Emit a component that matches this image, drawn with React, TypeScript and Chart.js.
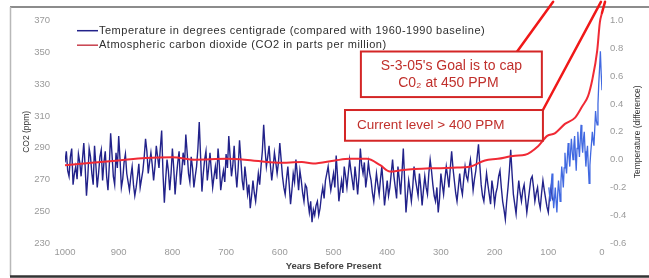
import React, { useEffect, useRef } from "react";
import { Chart, registerables } from "chart.js";

Chart.register(...registerables);

// ---------- DATA ----------
const legendLabels = [
  "Temperature in degrees centigrade (compared with 1960-1990 baseline)",
  "Atmospheric carbon dioxide (CO2 in parts per million)",
];
const xAxisTitle = "Years Before Present";
const leftAxisTitle = "CO2 (ppm)";
const rightAxisTitle = "Temperature (difference)";

const yearMin = 0;
const yearMax = 1000;
const yearStep = 100;
const co2Min = 230;
const co2Max = 370;
const co2Step = 20;
const tempMin = -0.6;
const tempMax = 1.0;
const tempStep = 0.2;

// proxy temperature reconstruction, every 2.5 years from 1000 BP
const proxyStartYear = 1000;
const proxyStep = 2.5;
const proxyTemps = [
  -0.02, 0.06, -0.08, -0.12, 0.02, 0.08, -0.18, -0.1, -0.05, -0.14, 0.04, -0.02, -0.12, 0.0, 0.12, -0.05, -0.26, -0.12, 0.08, 0.02,
  -0.1, -0.18, 0.1, -0.04, -0.2, -0.1, 0.02, 0.07, -0.15, -0.02, 0.06, -0.12, -0.22, -0.04, 0.19, 0.04, -0.12, -0.18, 0.05, -0.06,
  0.17, 0.0, -0.2, -0.14, -0.02, 0.04, -0.1, -0.16, -0.22, -0.12, -0.05, -0.18, -0.26, -0.2, -0.12, -0.03, -0.2, -0.14, -0.08, 0.02,
  0.15, 0.06, -0.1, -0.02, 0.05, -0.04, -0.15, -0.05, 0.1, 0.02, -0.06, 0.08, 0.21, -0.1, -0.31, -0.14, 0.0, -0.08, -0.22, -0.1,
  0.08, -0.06, -0.25, -0.12, -0.02, 0.06, -0.18, -0.08, 0.05, -0.04, 0.18, 0.05, -0.1, -0.16, 0.02, -0.06, -0.2, -0.12, -0.05, 0.08,
  0.27, 0.02, -0.23, -0.1, 0.0, 0.06, -0.15, -0.06, 0.05, -0.08, -0.2, -0.12, -0.05, -0.14, 0.08, -0.04, -0.22, -0.14, -0.08, -0.16,
  0.04, -0.06, 0.17, 0.02, -0.12, -0.04, 0.1, -0.08, -0.2, -0.06, 0.14, 0.0, -0.15, -0.22, -0.05, -0.14, -0.25, -0.18, -0.35, -0.26,
  -0.15, -0.24, -0.3, -0.2, -0.1, -0.18, -0.05, 0.06, 0.25, 0.08, -0.05, 0.02, 0.1, -0.04, -0.15, -0.06, 0.05, -0.02, -0.1, -0.02,
  0.12, 0.0, -0.12, -0.2, -0.25, -0.14, -0.05, -0.18, -0.32, -0.22, -0.1, -0.16, 0.0, -0.1, -0.22, -0.08, -0.15, -0.24, -0.3, -0.18,
  -0.2, -0.3, -0.38, -0.3, -0.45, -0.36, -0.4, -0.33, -0.3, -0.4, -0.35, -0.26, -0.2, -0.28, -0.15, -0.1, -0.05, -0.14, -0.22, -0.16,
  -0.1, -0.2, 0.03, -0.12, -0.3, -0.22, -0.15, -0.24, -0.05, -0.12, -0.2, -0.1, 0.0, -0.08, -0.15, -0.22, -0.05, -0.14, -0.25, -0.12,
  0.08, -0.04, -0.1, -0.02, -0.2, -0.12, -0.02, -0.1, -0.15, -0.24, -0.3, -0.2, -0.1, -0.18, -0.25, -0.14, -0.05, -0.18, -0.33, -0.24,
  -0.15, -0.26, -0.2, -0.1, 0.0, -0.12, -0.2, -0.28, -0.05, -0.14, -0.25, -0.1, 0.08, -0.15, -0.38, -0.26, -0.15, -0.22, -0.3, -0.2,
  -0.05, -0.14, -0.2, -0.26, -0.1, -0.2, -0.33, -0.22, -0.12, -0.2, -0.25, -0.1, 0.0, -0.08, -0.18, -0.26, -0.3, -0.2, -0.38, -0.28,
  -0.1, -0.18, -0.25, -0.14, -0.05, -0.12, -0.2, -0.06, 0.06, -0.06, -0.15, -0.24, -0.3, -0.2, -0.1, -0.2, -0.25, -0.14, -0.05, -0.12,
  -0.15, -0.06, 0.0, -0.1, -0.22, -0.14, -0.08, 0.02, 0.11, -0.04, -0.18, -0.26, -0.3, -0.2, -0.1, -0.18, -0.25, -0.32, -0.15, -0.22,
  -0.32, -0.24, -0.2, -0.12, -0.08, -0.2, -0.3, -0.36, -0.43, -0.3, -0.2, -0.08, 0.07, -0.1, -0.25, -0.32, -0.39, -0.26, -0.15, -0.24,
  -0.3, -0.22, -0.18, -0.28, -0.38, -0.3, -0.22, -0.14, -0.12, -0.2, -0.3, -0.24, -0.2, -0.3, -0.35, -0.24, -0.15, -0.22, -0.28, -0.34,
  -0.38, -0.26, -0.2, -0.28, -0.3,
];

// instrumental record, every 1.5 years from 99 BP
const instrStartYear = 99;
const instrStep = 1.5;
const instrTemps = [
  -0.2, -0.26, -0.3, -0.18, -0.1, -0.24, -0.35, -0.28, -0.2, -0.3,
  -0.38, -0.25, -0.15, -0.22, -0.3, -0.16, -0.05, -0.12, -0.2, -0.06,
  0.05, -0.04, -0.1, 0.02, 0.12, 0.02, -0.05, 0.06, 0.15, 0.06,
  0.0, 0.1, 0.17, 0.04, -0.08, 0.08, 0.2, 0.1, 0.02, 0.14,
  0.25, 0.12, 0.05, 0.15, 0.2, 0.06, -0.05, 0.04, 0.1, -0.05,
  -0.17, -0.04, 0.05, 0.12, 0.2, 0.14, 0.1, 0.22, 0.35, 0.28,
  0.25, 0.4, 0.55, 0.66, 0.78, 0.62, 0.5,
];

const co2Years = [
  1000, 950, 900, 850, 800, 758, 700, 665, 603, 559, 538, 497, 470, 438,
  413, 395, 370, 320, 270, 246, 218, 194, 162, 143, 119, 102, 88, 69, 50,
  37, 26, 18, 9, 4, 0,
];
const co2Values = [
  279, 280.5, 282, 283.5, 284, 282.5, 283, 282.5, 280.5, 281, 280, 282, 283,
  283, 279, 275, 276, 277, 277.5, 278, 282, 283, 285, 285.6, 291, 297.5, 299,
  305, 309, 316, 322.5, 333, 351, 369, 375,
];

const goalText = ["S-3-05's Goal is to cap", "C0\u2082 at 450 PPM"];
const currentText = "Current level > 400 PPM";

// ---------- ANNOTATION GEOMETRY (data units: year, ppm) ----------
const goalBox = { y0: 449, y1: 112, c0: 350.6, c1: 321.9 };
const currentBox = { y0: 478.6, y1: 110, c0: 313.75, c1: 294.4 };
const pointerLines = [
  { a: [158, 350.6], b: [91, 381.9] },
  { a: [110, 313.75], b: [2, 381.9] },
  { a: [0, 375], b: [-5.6, 381.9] },
];

const FONT = "'Liberation Sans', Arial, sans-serif";
const NAVY = "#22228a";
const LIGHTBLUE = "#4169e1";
const RED = "#f02a35";

const framePlugin = {
  id: "frame",
  beforeDraw(chart: any) {
    const { ctx, width, height } = chart;
    ctx.save();
    ctx.fillStyle = "#ffffff";
    ctx.fillRect(0, 0, width, height);
    ctx.strokeStyle = "#8c8c8c";
    ctx.lineWidth = 2;
    ctx.beginPath();
    ctx.moveTo(10, 7);
    ctx.lineTo(width, 7);
    ctx.stroke();
    ctx.strokeStyle = "#b8b8b8";
    ctx.lineWidth = 1.5;
    ctx.beginPath();
    ctx.moveTo(10.5, 7);
    ctx.lineTo(10.5, height - 2);
    ctx.stroke();
    ctx.strokeStyle = "#333333";
    ctx.lineWidth = 2.5;
    ctx.beginPath();
    ctx.moveTo(10, height - 1.5);
    ctx.lineTo(width, height - 1.5);
    ctx.stroke();
    ctx.restore();
  },
};

const overlayPlugin = {
  id: "overlay",
  afterDraw(chart: any) {
    const { ctx, scales } = chart;
    const xs = scales.x;
    const ys = scales.yC;
    const px = (yr: number) => xs.getPixelForValue(yr);
    const py = (c: number) => ys.getPixelForValue(c);
    const area = chart.chartArea;
    ctx.save();

    // legend
    const legendColors = [NAVY, "#c8404c"];
    ctx.font = `11px ${FONT}`;
    (ctx as any).letterSpacing = "0.5px";
    ctx.textBaseline = "middle";
    ctx.textAlign = "left";
    legendLabels.forEach((lbl, i) => {
      const y = area.top + 10 + i * 14.5;
      ctx.strokeStyle = legendColors[i];
      ctx.lineWidth = 1.5;
      ctx.beginPath();
      ctx.moveTo(area.left + 12, y);
      ctx.lineTo(area.left + 33, y);
      ctx.stroke();
      ctx.fillStyle = "#2e2e2e";
      ctx.fillText(lbl, area.left + 34, y);
    });
    (ctx as any).letterSpacing = "0px";

    // right axis title (reads bottom to top)
    ctx.save();
    ctx.translate(area.right + 36, (area.top + area.bottom) / 2);
    ctx.rotate(-Math.PI / 2);
    ctx.font = `8.5px ${FONT}`;
    ctx.fillStyle = "#333";
    ctx.textAlign = "center";
    ctx.textBaseline = "middle";
    ctx.fillText(rightAxisTitle, 0, 0);
    ctx.restore();

    // pointer lines
    ctx.strokeStyle = "#f01818";
    ctx.lineWidth = 2.5;
    ctx.lineCap = "round";
    pointerLines.forEach((l) => {
      ctx.beginPath();
      ctx.moveTo(px(l.a[0]), py(l.a[1]));
      ctx.lineTo(px(l.b[0]), py(l.b[1]));
      ctx.stroke();
    });

    // boxes
    const drawBox = (b: any) => {
      const x0 = px(b.y0), x1 = px(b.y1), y0 = py(b.c0), y1 = py(b.c1);
      ctx.fillStyle = "#ffffff";
      ctx.fillRect(x0, y0, x1 - x0, y1 - y0);
      ctx.strokeStyle = "#d42626";
      ctx.lineWidth = 2;
      ctx.strokeRect(x0, y0, x1 - x0, y1 - y0);
      return { x0, x1, y0, y1 };
    };
    const g = drawBox(goalBox);
    ctx.fillStyle = "#c0302c";
    ctx.font = `14px ${FONT}`;
    ctx.textAlign = "center";
    ctx.textBaseline = "middle";
    const gcx = (g.x0 + g.x1) / 2;
    const gcy = (g.y0 + g.y1) / 2;
    ctx.fillText(goalText[0], gcx, gcy - 8.5);
    ctx.fillText(goalText[1], gcx - 3, gcy + 8.5);

    const c = drawBox(currentBox);
    ctx.fillStyle = "#c0302c";
    ctx.font = `13.5px ${FONT}`;
    ctx.textAlign = "left";
    ctx.fillText(currentText, c.x0 + 12, (c.y0 + c.y1) / 2);
    ctx.restore();
  },
};

export default function App() {
  const ref = useRef<HTMLCanvasElement | null>(null);
  useEffect(() => {
    document.body.style.margin = "0";
    const canvas = ref.current;
    if (!canvas) return;
    const proxyData = proxyTemps.map((v, i) => ({ x: proxyStartYear - i * proxyStep, y: v }));
    const instrData = instrTemps.map((v, i) => ({ x: instrStartYear - i * instrStep, y: v }));
    const co2Data = co2Values.map((v, i) => ({ x: co2Years[i], y: v }));
    const tickFont = { family: FONT, size: 9.5 };
    const chart = new Chart(canvas, {
      type: "line",
      data: {
        datasets: [
          {
            label: legendLabels[1],
            data: co2Data,
            borderColor: RED,
            borderWidth: 2,
            pointRadius: 0,
            yAxisID: "yC",
            cubicInterpolationMode: "monotone",
            clip: false,
            order: 0,
          } as any,
          {
            label: legendLabels[0],
            data: proxyData,
            borderColor: NAVY,
            borderWidth: 1.4,
            pointRadius: 0,
            tension: 0,
            yAxisID: "yT",
            order: 2,
          },
          {
            label: "instrumental",
            data: instrData,
            borderColor: LIGHTBLUE,
            borderWidth: 1.3,
            pointRadius: 0,
            tension: 0,
            yAxisID: "yT",
            order: 1,
          },
        ],
      },
      options: {
        animation: false,
        responsive: false,
        devicePixelRatio: 1,
        layout: { padding: { top: 19, left: 0, right: 0, bottom: 0 } },
        plugins: { legend: { display: false }, tooltip: { enabled: false } },
        scales: {
          x: {
            type: "linear",
            reverse: true,
            min: yearMin,
            max: yearMax,
            ticks: {
              stepSize: yearStep,
              color: "#9a9a9a",
              font: tickFont,
              padding: 4,
              maxRotation: 0,
              autoSkip: false,
              callback: (v: any) => String(v),
            },
            grid: { display: false, drawTicks: false },
            border: { display: false },
            title: {
              display: true,
              text: xAxisTitle,
              color: "#444",
              font: { family: FONT, size: 9.5, weight: "bold" },
              padding: { top: 0, bottom: 6 },
            },
            afterFit: (s: any) => {
              s.height = 35;
            },
          },
          yC: {
            type: "linear",
            position: "left",
            min: co2Min,
            max: co2Max,
            ticks: { stepSize: co2Step, color: "#9a9a9a", font: tickFont, padding: 15 },
            grid: { display: false, drawTicks: false },
            border: { display: false },
            title: {
              display: true,
              text: leftAxisTitle,
              color: "#333",
              font: { family: FONT, size: 8.5 },
              padding: { top: 22, bottom: 0 },
            },
            afterFit: (s: any) => {
              s.width = 65;
            },
          },
          yT: {
            type: "linear",
            position: "right",
            min: tempMin,
            max: tempMax,
            ticks: {
              stepSize: tempStep,
              color: "#9a9a9a",
              font: tickFont,
              padding: 8,
              callback: (v: any) => (Math.abs(v) < 1e-9 ? "0.0" : Number(v).toFixed(1)),
            },
            grid: { display: false, drawTicks: false },
            border: { display: false },
            afterFit: (s: any) => {
              s.width = 47;
            },
          },
        },
      } as any,
      plugins: [framePlugin, overlayPlugin],
    });
    return () => chart.destroy();
  }, []);
  return <canvas ref={ref} width={649} height={278} style={{ display: "block" }} />;
}
